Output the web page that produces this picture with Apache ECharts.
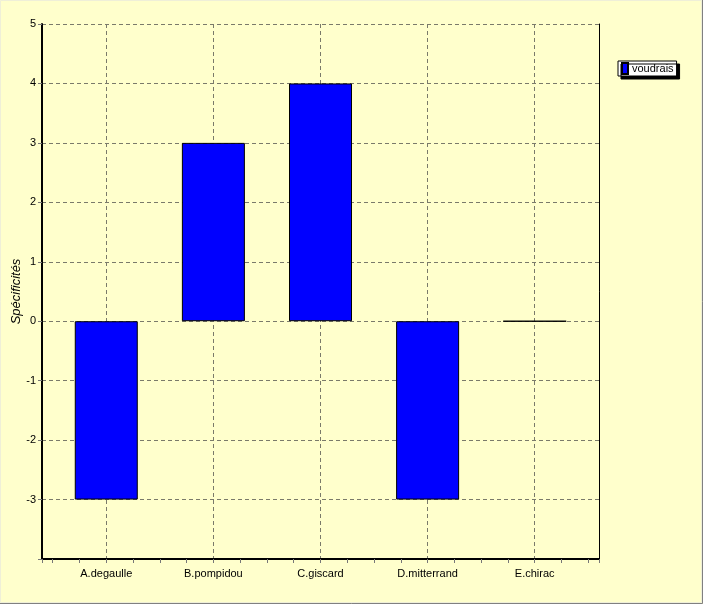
<!DOCTYPE html>
<html>
<head>
<meta charset="utf-8">
<script src="https://cdn.jsdelivr.net/npm/echarts@6/dist/echarts.min.js"></script>
<style>
    html, body { margin: 0; padding: 0; background: #FFFFCC; }
    #chart { width: 703px; height: 604px; }
</style>
</head>
<body>
<div id="chart"></div>
<script>
/* données du graphique */
var categories = ['A.degaulle', 'B.pompidou', 'C.giscard', 'D.mitterrand', 'E.chirac'];
var voudrais = [-3, 3, 4, -3, 0];
var yTicks = [-4, -3, -2, -1, 0, 1, 2, 3, 4, 5];

var chart = echarts.init(document.getElementById('chart'));

var barData = [];
for (var i = 0; i < voudrais.length; i++) {
    barData.push([i + 1, voudrais[i]]);
}

var font = 'Liberation Sans, Arial, sans-serif';

var option = {
    backgroundColor: '#FFFFCC',
    animation: false,
    textStyle: { fontFamily: font },
    grid: {
        left: 42,
        right: 104,
        top: 24,
        bottom: 45,
        containLabel: false,
        outerBoundsMode: 'none'
    },
    legend: {
        data: ['voudrais'],
        left: 618,
        top: 61,
        orient: 'vertical',
        backgroundColor: '#FFFFFF',
        borderColor: '#000000',
        borderWidth: 1,
        borderRadius: 0,
        padding: [1, 3, 1, 3],
        shadowColor: '#000000',
        shadowBlur: 0,
        shadowOffsetX: 3,
        shadowOffsetY: 3,
        itemWidth: 6,
        itemHeight: 11,
        itemGap: 4,
        icon: 'rect',
        textStyle: { fontFamily: font, fontSize: 11, color: '#000', padding: [0, 0, 0, -1] }
    },
    graphic: [
        {
            type: 'rect',
            shape: { x: 0.5, y: 0.5, width: 701, height: 602 },
            style: { fill: 'none', stroke: '#EFEFD8', lineWidth: 1 },
            silent: true
        },
        {
            type: 'polyline',
            shape: { points: [[702.5, 0], [702.5, 603.5], [0, 603.5]] },
            style: { fill: 'none', stroke: '#808080', lineWidth: 1 },
            silent: true
        }
    ],
    xAxis: {
        type: 'value',
        min: 0.4,
        max: 5.6,
        axisLine: { show: true, onZero: false, lineStyle: { color: '#000', width: 2 } },
        axisTick: { show: true, length: 4, lineStyle: { color: '#777', type: 'dashed' } },
        minorTick: { show: true, splitNumber: 4, length: 4, lineStyle: { color: '#777' } },
        axisLabel: {
            margin: 9,
            fontSize: 11,
            color: '#000',
            fontFamily: font,
            showMinLabel: false,
            showMaxLabel: false,
            formatter: function (v) {
                var k = Math.round(v);
                if (Math.abs(v - k) > 1e-6) return '';
                return categories[k - 1] || '';
            }
        },
        splitLine: { show: true, lineStyle: { color: '#7a7a6a', type: [4, 3], width: 1 } }
    },
    yAxis: [
        {
            type: 'value',
            min: yTicks[0],
            max: yTicks[yTicks.length - 1],
            interval: 1,
            name: 'Spécificités',
            nameLocation: 'middle',
            nameGap: 19,
            nameMoveOverlap: false,
            nameTextStyle: { fontStyle: 'italic', fontSize: 13, color: '#000', fontFamily: font },
            axisLine: { show: true, onZero: false, lineStyle: { color: '#000', width: 2 } },
            axisTick: { show: true, length: 4, lineStyle: { color: '#777', type: 'dashed' } },
            axisLabel: {
                margin: 6,
                fontSize: 11,
                color: '#000',
                fontFamily: font,
                formatter: function (v) { return v === yTicks[0] ? '' : String(v); }
            },
            splitLine: { show: true, lineStyle: { color: '#7a7a6a', type: [4, 3], width: 1 } }
        },
        {
            type: 'value',
            position: 'right',
            min: yTicks[0],
            max: yTicks[yTicks.length - 1],
            interval: 1,
            axisLine: { show: true, onZero: false, lineStyle: { color: '#000', width: 1 } },
            axisTick: { show: false },
            axisLabel: { show: false },
            splitLine: { show: false }
        }
    ],
    series: [
        {
            name: 'voudrais',
            type: 'bar',
            data: barData,
            barWidth: 63,
            itemStyle: {
                color: '#0000FF',
                borderColor: '#000000',
                borderWidth: 1
            }
        }
    ]
};

chart.setOption(option);
</script>
</body>
</html>
